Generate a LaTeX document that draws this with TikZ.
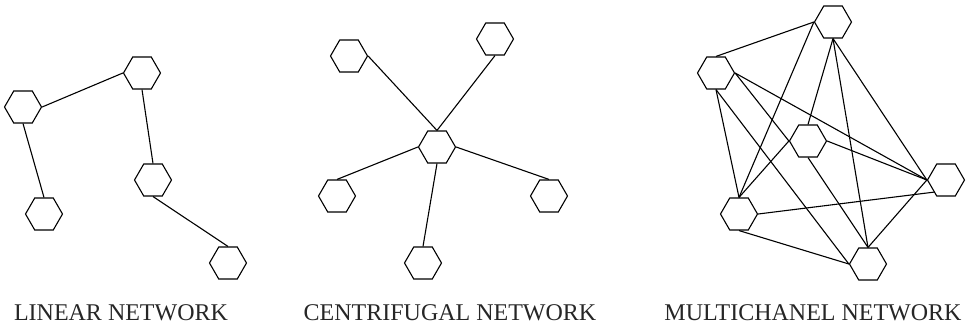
\documentclass[tikz,border=0pt]{standalone}
\usepackage{fontspec}
\setmainfont{Liberation Serif}
\usetikzlibrary{shapes.geometric}

\begin{document}
\begin{tikzpicture}[x=1pt, y=-1pt, line width=1.1pt,
  hexa/.style={draw, regular polygon, regular polygon sides=6,
    minimum size=37pt, inner sep=0pt, fill=white},
  caption/.style={anchor=base, font=\fontsize{24}{28}\selectfont, text=black!85}]
  \useasboundingbox (0,0) rectangle (967,327);

  % linear network
  \node[hexa] (LA) at (23,107) {};
  \node[hexa] (LB) at (142,73) {};
  \node[hexa] (LC) at (44,214) {};
  \node[hexa] (LD) at (153,180) {};
  \node[hexa] (LE) at (228,263) {};
  \draw (LA.east) -- (LB.west);
  \draw (LA.south) -- (LC.north);
  \draw (LB.south) -- (LD.north);
  \draw (LD.south) -- (LE.north);

  % centrifugal network
  \node[hexa] (CO) at (437,147) {};
  \node[hexa] (C1) at (349,56) {};
  \node[hexa] (C2) at (495,39) {};
  \node[hexa] (C3) at (337,196) {};
  \node[hexa] (C4) at (549,196) {};
  \node[hexa] (C5) at (423,263) {};
  \draw (C1.east) -- (CO.north);
  \draw (C2.south) -- (CO.north);
  \draw (CO.west) -- (C3.north);
  \draw (CO.east) -- (C4.north);
  \draw (CO.south) -- (C5.north);

  % multichanel network
  \node[hexa] (MT) at (833,22) {};
  \node[hexa] (ML) at (716,73) {};
  \node[hexa] (MM) at (808,141) {};
  \node[hexa] (MR) at (946,180) {};
  \node[hexa] (MP) at (739,214) {};
  \node[hexa] (MB) at (868,264) {};
  \draw (MT.west) -- (ML.north);
  \draw (MT.west) -- (MP.north);
  \draw (MT.south) -- (MM.north);
  \draw (MT.south) -- (MR.west);
  \draw (MT.south) -- (MB.north);
  \draw (ML.east) -- (MM.west);
  \draw (ML.east) -- (MR.west);
  \draw (ML.south) -- (MP.north);
  \draw (ML.south) -- (MB.west);
  \draw (MM.east) -- (MR.west);
  \draw (MM.west) -- (MP.north);
  \draw (MM.south) -- (MB.north);
  \draw (MP.east) -- (MR.south west);
  \draw (MR.west) -- (MB.north);
  \draw (MP.south) -- (MB.west);

  \node[caption] (capL) at (121,320) {LINEAR NETWORK};
  \node[caption] (capC) at (450,320) {CENTRIFUGAL NETWORK};
  \node[caption] (capM) at (813,320) {MULTICHANEL NETWORK};
\end{tikzpicture}
\end{document}
